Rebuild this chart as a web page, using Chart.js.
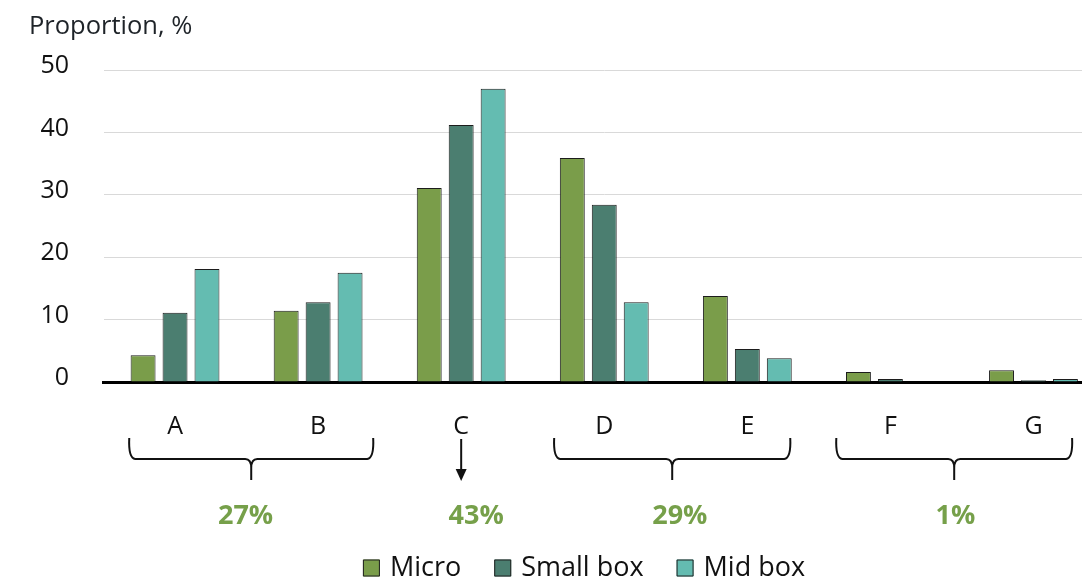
<!DOCTYPE html>
<html>
<head>
<meta charset="utf-8">
<script src="https://cdn.jsdelivr.net/npm/chart.js@4.4.1/dist/chart.umd.min.js"></script>
<style>
  html, body { margin: 0; padding: 0; background: #fff; overflow: hidden; }
  #wrap { width: 1105px; height: 582px; }
</style>
</head>
<body>
<div id="wrap"><canvas id="c" width="1105" height="582"></canvas></div>
<script>
// Categories and series values (proportion, %)
const categories = ['A', 'B', 'C', 'D', 'E', 'F', 'G'];
const micro    = [4.3, 11.4, 31.1, 35.9, 13.8, 1.6, 1.9];
const smallBox = [11.1, 12.8, 41.2, 28.4, 5.3, 0.5, 0.3];
const midBox   = [18.1, 17.5, 47.0, 12.8, 3.8, 0.0, 0.5];
const seriesNames = ['Micro', 'Small box', 'Mid box'];
const yTicks = [0, 10, 20, 30, 40, 50];

// Grouped shares shown under the axis
const groupLabels = ['27%', '43%', '29%', '1%'];

const FONT = '"Open Sans", "Noto Sans", sans-serif';
const colors = ['#7a9d4a', '#4b7e70', '#64bcb1'];
const TEXT = '#111';
const GREEN = '#76a04a';

// Annotation layout under the category axis, in category-index units
const groups = [
  { kind: 'brace', from: 0, to: 1, left: -0.32, right: 0.385, label: 0, labelAt: 0.493 },
  { kind: 'arrow', at: 2, label: 1, labelAt: 2.105 },
  { kind: 'brace', from: 3, to: 4, left: -0.35, right: 0.30, label: 2, labelAt: 3.528 },
  { kind: 'brace', from: 5, to: 6, left: -0.378, right: 0.27, label: 3, labelAt: 5.455 }
];

const annotationPlugin = {
  id: 'annotations',
  afterDraw(chart) {
    const ctx = chart.ctx;
    const x = chart.scales.x;
    const step = x.getPixelForValue(1) - x.getPixelForValue(0);
    const px = v => x.getPixelForValue(0) + v * step;
    const yTop = 438, yMid = 459, yTip = 480, r = 6;

    ctx.save();
    ctx.strokeStyle = '#111';
    ctx.fillStyle = '#111';
    ctx.lineWidth = 2;
    ctx.lineCap = 'butt';
    ctx.lineJoin = 'round';

    groups.forEach(g => {
      if (g.kind === 'brace') {
        const L = px(g.from + g.left);
        const R = px(g.to + g.right);
        const T = (L + R) / 2;
        ctx.beginPath();
        ctx.moveTo(L, yTop);
        ctx.quadraticCurveTo(L - 1, yMid - 1, L + r, yMid);
        ctx.lineTo(T - r, yMid);
        ctx.quadraticCurveTo(T, yMid, T, yMid + 9);
        ctx.lineTo(T, yTip);
        ctx.moveTo(T, yMid + 9);
        ctx.quadraticCurveTo(T, yMid, T + r, yMid);
        ctx.lineTo(R - r, yMid);
        ctx.quadraticCurveTo(R + 1, yMid - 1, R, yTop);
        ctx.stroke();
      } else {
        const A = px(g.at);
        ctx.beginPath();
        ctx.moveTo(A, 439);
        ctx.lineTo(A, 471);
        ctx.stroke();
        ctx.beginPath();
        ctx.moveTo(A - 5.5, 469);
        ctx.lineTo(A + 5.5, 469);
        ctx.lineTo(A, 481);
        ctx.closePath();
        ctx.fill();
      }
      ctx.fillStyle = GREEN;
      ctx.font = 'bold 27px ' + FONT;
      ctx.textAlign = 'center';
      ctx.textBaseline = 'middle';
      ctx.fillText(groupLabels[g.label], px(g.labelAt), 516);
      ctx.fillStyle = '#111';
    });

    // Axis title
    ctx.fillStyle = '#1e2328';
    ctx.font = '25.5px ' + FONT;
    ctx.textAlign = 'left';
    ctx.textBaseline = 'middle';
    ctx.fillText('Proportion, %', 29, 27);

    // Legend
    const items = chart.data.datasets;
    ctx.font = '27px ' + FONT;
    const box = 17, gapBox = 10, gapItem = 33;
    let total = 0;
    const widths = items.map(d => ctx.measureText(d.label).width);
    widths.forEach(w => { total += box + gapBox + w; });
    total += gapItem * (items.length - 1);
    let lx = 584 - total / 2;
    const ly = 568;
    items.forEach((d, i) => {
      ctx.fillStyle = d.backgroundColor;
      ctx.fillRect(lx, ly - box / 2, box, box);
      ctx.strokeStyle = '#222';
      ctx.lineWidth = 1;
      ctx.strokeRect(lx + 0.5, ly - box / 2 + 0.5, box - 1, box - 1);
      ctx.fillStyle = TEXT;
      ctx.textAlign = 'left';
      ctx.fillText(d.label, lx + box + gapBox, ly);
      lx += box + gapBox + widths[i] + gapItem;
    });
    ctx.restore();
  }
};

const seriesData = [micro, smallBox, midBox];

new Chart(document.getElementById('c'), {
  type: 'bar',
  data: {
    labels: categories,
    datasets: seriesNames.map((name, i) => ({
      label: name,
      data: seriesData[i],
      backgroundColor: colors[i],
      borderColor: '#1c1c1c',
      borderWidth: 1,
      categoryPercentage: 0.67,
      barPercentage: 0.78
    }))
  },
  options: {
    responsive: false,
    animation: false,
    devicePixelRatio: 1,
    layout: { padding: { top: 70, right: 0, bottom: 0, left: 0 } },
    plugins: {
      legend: { display: false },
      tooltip: { enabled: false },
      title: { display: false }
    },
    scales: {
      x: {
        z: 1,
        grid: { display: false, drawTicks: false },
        border: { display: true, color: '#000', width: 3 },
        ticks: {
          color: TEXT,
          font: { family: FONT, size: 25 },
          padding: 30
        },
        afterFit(scale) { scale.height = 200; }
      },
      y: {
        min: 0,
        max: 50,
        afterBuildTicks(scale) { scale.ticks = yTicks.map(v => ({ value: v })); },
        grid: {
          drawTicks: false,
          color: ctx => (ctx.tick && ctx.tick.value === 0) ? 'rgba(0,0,0,0)' : '#d9d9d9',
          lineWidth: 1
        },
        border: { display: false },
        ticks: {
          color: TEXT,
          font: { family: FONT, size: 25 },
          padding: 34.5,
          labelOffset: -4
        },
        afterFit(scale) { scale.width = 103.5; }
      }
    }
  },
  plugins: [annotationPlugin]
});
</script>
</body>
</html>
